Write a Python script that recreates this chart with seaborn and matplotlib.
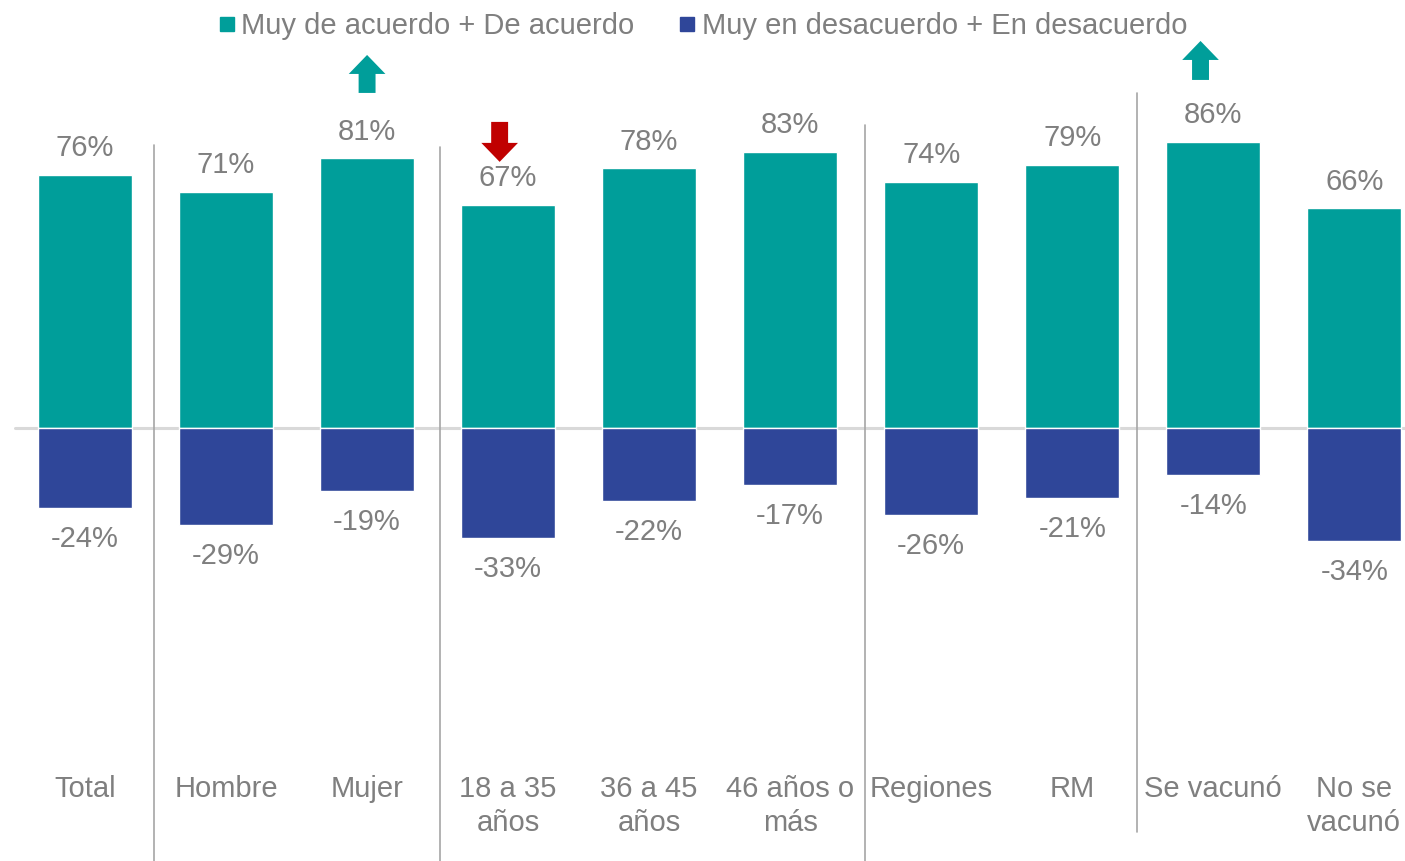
import seaborn as sns
import matplotlib.pyplot as plt
from matplotlib.lines import Line2D
import pandas as pd

categorias = ["Total", "Hombre", "Mujer", "18 a 35\naños", "36 a 45\naños",
              "46 años o\nmás", "Regiones", "RM", "Se vacunó", "No se\nvacunó"]
de_acuerdo = [76, 71, 81, 67, 78, 83, 74, 79, 86, 66]
en_desacuerdo = [-24, -29, -19, -33, -22, -17, -26, -21, -14, -34]
series = ["Muy de acuerdo + De acuerdo", "Muy en desacuerdo + En desacuerdo"]

TEAL = "#009E9A"
NAVY = "#2F4699"
GRIS = "#7F7F7F"
FS = 21

df = pd.DataFrame({
    "cat": categorias * 2,
    "valor": de_acuerdo + en_desacuerdo,
    "serie": [series[0]] * len(categorias) + [series[1]] * len(categorias),
})

sns.set_style("white")
plt.rcParams["font.family"] = ["Liberation Sans", "DejaVu Sans"]

fig = plt.figure(figsize=(14.05, 8.61), dpi=100)
ax = fig.add_axes([0, 0, 1, 1])
sns.barplot(data=df, x="cat", y="valor", hue="serie", order=categorias,
            hue_order=series, palette={series[0]: TEAL, series[1]: NAVY},
            dodge=False, width=0.67, errorbar=None, legend=False,
            saturation=1, ax=ax)

ax.set_xlim(-0.603, 9.36)
ax.set_ylim(-130, 128.5)
ax.axis("off")

# linea del cero
ax.plot([-0.497, 9.36], [0, 0], color="#D9D9D9", lw=2.2, zorder=0)

# etiquetas de valores
for i, (p, n) in enumerate(zip(de_acuerdo, en_desacuerdo)):
    ax.text(i, p + 8, f"{p}%", ha="center", va="center", fontsize=FS, color=GRIS)
    ax.text(i, n - 9.3, f"{n}%", ha="center", va="center", fontsize=FS, color=GRIS)
    ax.text(i, -104.3, categorias[i], ha="center", va="top", fontsize=FS,
            color=GRIS, linespacing=1.25)

# separadores de grupos
for x, y0, y1 in [(0.49, -131, 85), (2.52, -131, 84.4), (5.53, -131, 91), (7.46, -121.3, 100.6)]:
    ax.plot([x, x], [y0, y1], color="#A6A6A6", lw=1.2, clip_on=False)

# flechas
ax.arrow(2, 100.6, 0, 11.4, width=0.12, head_width=0.26, head_length=5.7,
         length_includes_head=True, color=TEAL, lw=0)
ax.arrow(7.91, 104.5, 0, 11.7, width=0.12, head_width=0.26, head_length=5.7,
         length_includes_head=True, color=TEAL, lw=0)
ax.arrow(2.94, 91.9, 0, -12.0, width=0.12, head_width=0.26, head_length=5.7,
         length_includes_head=True, color="#C00000", lw=0)

handles = [Line2D([], [], marker="s", ls="", color=TEAL, markersize=9.5),
           Line2D([], [], marker="s", ls="", color=NAVY, markersize=9.5)]
leg = fig.legend(handles, series, loc="upper center", bbox_to_anchor=(0.4995, 1.016),
                 ncol=2, frameon=False, fontsize=FS, handletextpad=0.15,
                 columnspacing=1.45, handlelength=0.7)
for t in leg.get_texts():
    t.set_color(GRIS)

fig.savefig("out.png", dpi=100)
